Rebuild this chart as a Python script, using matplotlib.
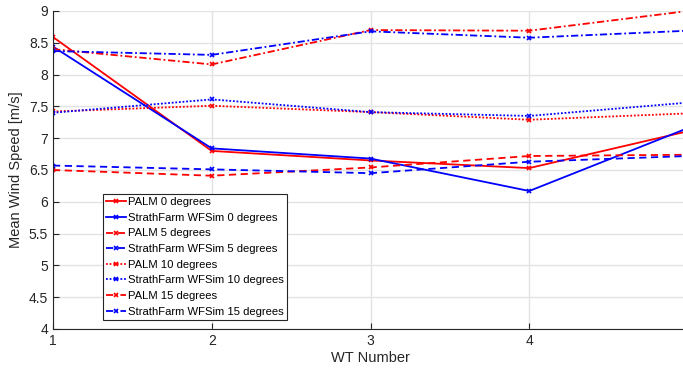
import matplotlib
matplotlib.use("Agg")
import matplotlib.pyplot as plt

plt.rcParams['font.family'] = ['Liberation Sans', 'DejaVu Sans']

wt_number = [1, 2, 3, 4, 5]

palm_0 = [8.59, 6.80, 6.65, 6.53, 7.11]
strath_0 = [8.44, 6.84, 6.68, 6.17, 7.16]
palm_5 = [6.50, 6.41, 6.54, 6.72, 6.74]
strath_5 = [6.57, 6.51, 6.45, 6.63, 6.72]
palm_10 = [7.42, 7.51, 7.41, 7.29, 7.39]
strath_10 = [7.40, 7.61, 7.41, 7.35, 7.56]
palm_15 = [8.40, 8.16, 8.70, 8.69, 9.00]
strath_15 = [8.37, 8.31, 8.68, 8.58, 8.69]

x_ticks = [1, 2, 3, 4]
y_ticks = [4, 4.5, 5, 5.5, 6, 6.5, 7, 7.5, 8, 8.5, 9]
y_tick_labels = ['4', '4.5', '5', '5.5', '6', '6.5', '7', '7.5', '8', '8.5', '9']

series = [
    ("PALM 0 degrees", palm_0, 'red', '-'),
    ("StrathFarm WFSim 0 degrees", strath_0, 'blue', '-'),
    ("PALM 5 degrees", palm_5, 'red', (0, (4, 2.5))),
    ("StrathFarm WFSim 5 degrees", strath_5, 'blue', (0, (4, 2.5))),
    ("PALM 10 degrees", palm_10, 'red', (0, (1, 1))),
    ("StrathFarm WFSim 10 degrees", strath_10, 'blue', (0, (1, 1))),
    ("PALM 15 degrees", palm_15, 'red', (0, (4, 1.5, 1, 1.5))),
    ("StrathFarm WFSim 15 degrees", strath_15, 'blue', (0, (4, 1.5, 1, 1.5))),
]

fig = plt.figure(figsize=(6.83, 3.72), dpi=100)
ax = fig.add_axes([53 / 683, 43 / 372, 635 / 683, 318 / 372])

for label, vals, color, ls in series:
    ax.plot(wt_number, vals, color=color, linestyle=ls, linewidth=1.3,
            marker='x', markersize=3, markeredgewidth=1.2, label=label)

ax.set_xlim(1, 5)
ax.set_ylim(4, 9)
ax.set_xticks(x_ticks)
ax.set_yticks(y_ticks)
ax.set_yticklabels(y_tick_labels)

ax.grid(True, color='#e3e3e3', linewidth=1)
ax.set_axisbelow(True)
for side in ('top', 'right'):
    ax.spines[side].set_visible(False)
for side in ('left', 'bottom'):
    ax.spines[side].set_color('#262626')
    ax.spines[side].set_linewidth(0.8)
ax.tick_params(direction='in', length=4, width=0.8, colors='#262626',
               labelsize=10, labelcolor='#262626')

ax.set_xlabel('WT Number', fontsize=10.5, color='#262626', labelpad=2)
ax.set_ylabel('Mean Wind Speed [m/s]', fontsize=10.5, color='#262626', labelpad=4)

leg = ax.legend(loc='lower left', bbox_to_anchor=(50 / 635, 9 / 318),
                fontsize=8.1, handlelength=1.7, handletextpad=0.2,
                labelspacing=0.5, borderpad=0.3, borderaxespad=0,
                frameon=True, fancybox=False, framealpha=1)
leg.get_frame().set_edgecolor('#262626')
leg.get_frame().set_linewidth(0.8)

fig.savefig('out.png', dpi=100)
